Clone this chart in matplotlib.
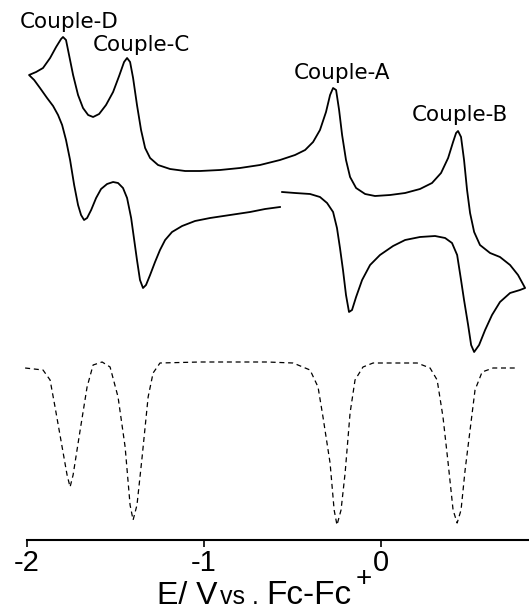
import matplotlib
matplotlib.use("Agg")
import matplotlib.pyplot as plt

plt.rcParams['axes.unicode_minus'] = False

# cyclic voltammogram, one continuous scan (E in V, current in arbitrary units)
cv_E = [-0.571, -0.655, -0.740, -0.853, -0.966, -1.051, -1.124, -1.181, -1.220, -1.249,
        -1.277, -1.305, -1.328, -1.345, -1.362, -1.379, -1.395, -1.412, -1.435, -1.458,
        -1.486, -1.514, -1.548, -1.582, -1.610, -1.638, -1.661, -1.678, -1.695, -1.712,
        -1.734, -1.757, -1.780, -1.802, -1.825, -1.853, -1.887, -1.927, -1.960, -1.989,
        -1.949, -1.910, -1.870, -1.836, -1.808, -1.797, -1.780, -1.763, -1.740, -1.712,
        -1.684, -1.655, -1.627, -1.593, -1.554, -1.514, -1.480, -1.452, -1.435, -1.418,
        -1.401, -1.379, -1.356, -1.333, -1.305, -1.260, -1.192, -1.107, -1.023, -0.910,
        -0.797, -0.684, -0.571, -0.486, -0.429, -0.384, -0.345, -0.311, -0.288, -0.271,
        -0.254, -0.237, -0.220, -0.198, -0.175, -0.141, -0.090, -0.034, 0.051, 0.136,
        0.220, 0.288, 0.339, 0.379, 0.407, 0.424, 0.435, 0.452, 0.469, 0.486,
        0.503, 0.526, 0.559, 0.616, 0.672, 0.729, 0.774, 0.814,
        0.785, 0.729, 0.672, 0.627, 0.588, 0.554, 0.526, 0.509, 0.492, 0.469,
        0.452, 0.430, 0.401, 0.362, 0.305, 0.220, 0.136, 0.068, -0.006, -0.062,
        -0.107, -0.141, -0.164, -0.181, -0.198, -0.215, -0.232, -0.249, -0.271, -0.305,
        -0.345, -0.401, -0.486, -0.559]
cv_i = [-7, -9, -12, -15, -18, -21, -26, -32, -40, -50,
        -62, -75, -85, -88, -80, -60, -40, -18, 2, 12,
        17, 18, 16, 11, 2, -10, -18, -20, -15, -5,
        15, 40, 60, 75, 85, 94, 102, 112, 120, 125,
        128, 132, 142, 153, 161, 163, 160, 145, 125, 105,
        92, 85, 83, 86, 95, 108, 124, 138, 142, 138,
        122, 95, 70, 52, 42, 35, 31, 29, 29, 30,
        32, 35, 40, 45, 50, 58, 70, 88, 105, 112,
        110, 90, 65, 40, 23, 12, 6, 4, 5, 7,
        11, 17, 27, 42, 58, 67, 69, 63, 40, 10,
        -13, -32, -45, -53, -57, -65, -75, -88,
        -90, -93, -102, -115, -130, -145, -152, -145, -125, -100,
        -80, -55, -43, -38, -36, -37, -40, -46, -55, -65,
        -80, -97, -110, -112, -95, -70, -48, -28, -12, -3,
        3, 6, 7, 8]

# differential pulse voltammogram (dashed)
dpv_E = [-2.011, -1.910, -1.870, -1.842, -1.802, -1.774, -1.757, -1.740, -1.700, -1.661,
         -1.627, -1.576, -1.531, -1.486, -1.446, -1.418, -1.401, -1.379, -1.350, -1.316,
         -1.288, -1.249, -1.023, -0.644, -0.497, -0.401, -0.356, -0.328, -0.288, -0.265,
         -0.249, -0.226, -0.203, -0.175, -0.147, -0.102, -0.045, 0.204, 0.277, 0.317,
         0.350, 0.379, 0.407, 0.430, 0.452, 0.475, 0.503, 0.531, 0.571, 0.633, 0.768]
dpv_i = [-168, -170, -180, -207, -247, -275, -287, -275, -230, -187,
         -165, -162, -167, -197, -247, -305, -320, -305, -257, -197,
         -173, -163, -162, -162, -163, -170, -187, -217, -263, -310,
         -325, -310, -273, -213, -180, -167, -163, -163, -168, -180,
         -217, -263, -310, -323, -310, -270, -230, -190, -172, -168, -168]

labels = ["Couple-D", "Couple-C", "Couple-A", "Couple-B"]
label_E = [-1.763, -1.356, -0.220, 0.446]
label_i = [178, 155, 127, 85]

fig = plt.figure(figsize=(5.29, 6.10), dpi=100)
ax = fig.add_axes([0, 0, 1, 1])

ax.plot(cv_E, cv_i, color="black", lw=1.3)
ax.plot(dpv_E, dpv_i, color="black", lw=0.9, ls=(0, (4, 3)))

for t, e, c in zip(labels, label_E, label_i):
    ax.text(e, c, t, ha="center", va="center", fontsize=15.5, family="DejaVu Sans")

ax.set_xlim(-2.153, 0.836)
ax.set_ylim(-410, 200)
for s in ["top", "left", "right"]:
    ax.spines[s].set_visible(False)
ax.spines["bottom"].set_position(("data", -340))
ax.spines["bottom"].set_bounds(-2, 0.836)
ax.spines["bottom"].set_linewidth(1.5)
ax.set_yticks([])
ax.set_xticks([-2, -1, 0])
ax.set_xticklabels(["-2", "-1", "0"], family="Liberation Sans", fontsize=21)
ax.tick_params(axis="x", direction="out", length=5, width=1.2, pad=1.5)

# axis title built from pieces to mimic mixed sizes
W, H = 529, 610
base = 1 - 604 / H
fig.text(157 / W, base, "E/ V", fontsize=23, family="Liberation Sans", va="baseline")
fig.text(220 / W, base, "vs .", fontsize=18, family="Liberation Sans", va="baseline")
fig.text(266 / W, base, "Fc-Fc", fontsize=24, family="Liberation Sans", va="baseline")
fig.text(356 / W, 1 - 586 / H, "+", fontsize=20, family="Liberation Sans", va="baseline")

fig.savefig("out.png", dpi=100)
